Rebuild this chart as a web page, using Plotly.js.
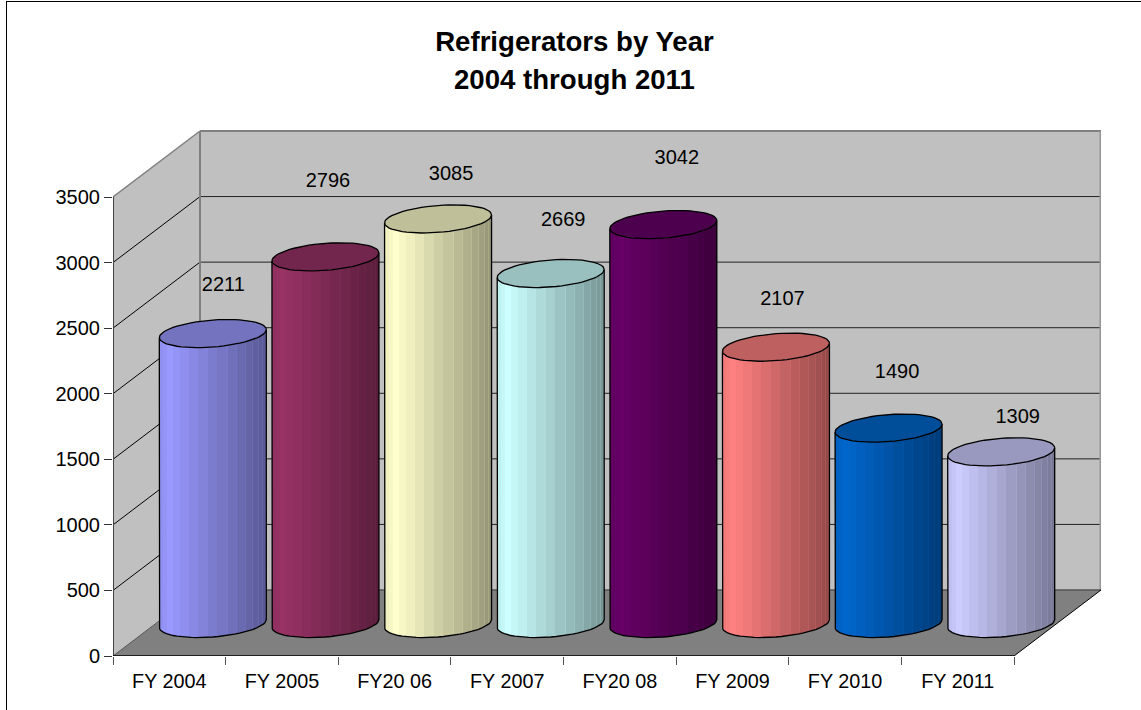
<!DOCTYPE html>
<html>
<head>
<meta charset="utf-8">
<script src="https://cdn.plot.ly/plotly-3.0.1.min.js"></script>
<style>html,body{margin:0;padding:0;background:#fff;overflow:hidden}#chart{width:1141px;height:710px}</style>
</head>
<body>
<div id="chart"></div>
<script>
// ---- data ----
const categories = ["FY 2004","FY 2005","FY20 06","FY 2007","FY20 08","FY 2009","FY 2010","FY 2011"];
const values = [2211,2796,3085,2669,3042,2107,1490,1309];
const yTicks = [0,500,1000,1500,2000,2500,3000,3500];
const barColors = [[153,153,255],[153,51,102],[255,255,204],[204,255,255],[102,0,102],[255,128,128],[0,102,204],[204,204,255]];
const labelDx = [10.5,2.5,13,12.5,13.5,6.5,8.5,16.5];
const labelDy = [47.5,74.5,43.5,52.5,65.5,47.5,55.5,33.5];

// ---- frame of the fake 3D box, in pixels of the page ----
const W = 1141, H = 710;
const L = 113, R = 1101, T = 130, B = 656, FRONT_R = 1014;
const DX = 87, DY = 66;
const xUnit = (FRONT_R - L) / categories.length;
const yUnit = (B - 197) / 3500;
const xMax = (R - L) / xUnit, yMax = (B - T) / yUnit;
const X = p => (p - L) / xUnit;
const Y = p => (B - p) / yUnit;

// cylinder geometry
const RAD = 53.5, ELL_B = 13.5, SHEAR = 4, OFF_X = 43.5, FLOOR_Y = 623.5, STRIP = 1, FACET = Math.PI / 17;
const shade = (c, f) => `rgb(${c.map(v => Math.min(255, Math.round(v * f))).join(",")})`;
const centre = i => L + (i + 0.5) * xUnit + OFF_X;
const topY = v => FLOOR_Y - v * yUnit;

const traces = [];
// bodies: narrow bars whose height is the value and whose base follows the floor ellipse
values.forEach((v, i) => {
  const cx = centre(i);
  const xs = [], bases = [], cols = [], widths = [];
  const n = Math.round(2 * RAD / STRIP);
  let lastFacet = -1;
  for (let k = 0; k < n; k++) {
    const px = cx - RAD + (k + 0.5) * STRIP;
    const u = Math.max(-1, Math.min(1, (px - cx) / RAD));
    const th = Math.acos(u);
    const idx = Math.floor(th / FACET);
    const facet = (idx + 0.5) * FACET;
    const t = (Math.cos(facet) + 1) / 2;
    let f = t < 0.1 ? 0.93 + 0.07 * t / 0.1 : 1 - 0.42 * (t - 0.1) / 0.9;
    if (idx !== lastFacet && k > 0 && u > 0.1) f += 0.07;   // faint light seam between facets
    lastFacet = idx;
    xs.push(X(px));
    widths.push(STRIP / xUnit);
    bases.push(Y(FLOOR_Y + ELL_B * Math.sin(th) - SHEAR * u));
    cols.push(shade(barColors[i], f));
  }
  traces.push({type: "bar", x: xs, y: xs.map(() => v), base: bases, width: widths, opacity: 1,
    marker: {color: cols, opacity: 1, line: {width: 0}}, hoverinfo: "skip", showlegend: false});
});
// outlines and lids
values.forEach((v, i) => {
  const cx = centre(i), cy = topY(v);
  const lidX = [], lidY = [], sideX = [], sideY = [];
  for (let d = 0; d <= 360; d += 6) {
    const a = d * Math.PI / 180;
    lidX.push(X(cx + RAD * Math.cos(a)));
    lidY.push(Y(cy + ELL_B * Math.sin(a) - SHEAR * Math.cos(a)));
  }
  sideX.push(X(cx - RAD)); sideY.push(Y(cy + SHEAR));
  for (let d = 180; d >= 0; d -= 6) {
    const a = d * Math.PI / 180;
    sideX.push(X(cx + RAD * Math.cos(a)));
    sideY.push(Y(FLOOR_Y + ELL_B * Math.sin(a) - SHEAR * Math.cos(a)));
  }
  sideX.push(X(cx + RAD)); sideY.push(Y(cy - SHEAR));
  traces.push({type: "scatter", mode: "lines", x: sideX, y: sideY, line: {color: "#000", width: 1.3},
    hoverinfo: "skip", showlegend: false});
  traces.push({type: "scatter", mode: "lines", x: lidX, y: lidY, fill: "toself",
    fillcolor: shade(barColors[i], 0.75), line: {color: "#000", width: 1.3}, hoverinfo: "skip", showlegend: false});
});
// value labels
traces.push({type: "scatter", mode: "text",
  x: values.map((v, i) => X(centre(i) + labelDx[i])),
  y: values.map((v, i) => Y(topY(v) - labelDy[i])),
  text: values.map(String), textposition: "middle center",
  textfont: {family: "Liberation Sans, Arial, sans-serif", size: 20, color: "#000"},
  cliponaxis: false, hoverinfo: "skip", showlegend: false});

// walls, floor, grid
const poly = pts => "M" + pts.map(p => X(p[0]) + "," + Y(p[1])).join(" L") + " Z";
const seg = (x0, y0, x1, y1, color, width, layer) => ({type: "line", xref: "x", yref: "y", layer: layer || "below",
  x0: X(x0), y0: Y(y0), x1: X(x1), y1: Y(y1), line: {color, width}});
const shapes = [
  {type: "path", xref: "x", yref: "y", layer: "below", path: poly([[L + DX, B - DY], [R, B - DY], [R, T + 1], [L + DX, T + 1]]), fillcolor: "#C0C0C0", line: {width: 0}},
  {type: "path", xref: "x", yref: "y", layer: "below", path: poly([[L, B], [L + DX, B - DY], [L + DX, T + 1], [L, 197]]), fillcolor: "#C0C0C0", line: {width: 0}},
  {type: "path", xref: "x", yref: "y", layer: "below", path: poly([[L, B], [FRONT_R, B], [R, B - DY], [L + DX, B - DY]]), fillcolor: "#808080", line: {width: 0}},
];
yTicks.forEach(t => {
  const py = B - t * yUnit;
  if (t > 0 && t < 3500) {
    shapes.push(seg(L, py, L + DX, py - DY, "#000", 1));
    shapes.push(seg(L + DX, py - DY, R, py - DY, "#222", 1));
  }
});
shapes.push(seg(L, 197, L + DX, T + 1, "#808080", 1.5));
shapes.push(seg(L + DX, T + 1, R, T + 1, "#808080", 2));
shapes.push(seg(R - 0.5, T + 1, R - 0.5, B - DY, "#969696", 2));
shapes.push(seg(L + DX, T + 1, L + DX, B - DY, "#808080", 2));
shapes.push(seg(L + DX, B - DY, R, B - DY, "#555", 1.5));
shapes.push(seg(L, B, L + DX, B - DY, "#555", 1));
shapes.push(seg(FRONT_R, B, R, B - DY, "#000", 1));
shapes.push(seg(L, 197, L, B, "#444", 2));
shapes.push(seg(L, B, FRONT_R, B, "#000", 1.5));
// outer frame of the chart area
shapes.push({type: "line", xref: "paper", yref: "paper", x0: (6 - L) / (R - L), x1: (W - L) / (R - L), y0: (B - 1.5) / (B - T), y1: (B - 1.5) / (B - T), line: {color: "#000", width: 1}});
shapes.push({type: "line", xref: "paper", yref: "paper", x0: (6.5 - L) / (R - L), x1: (6.5 - L) / (R - L), y0: (B - 1) / (B - T), y1: (B - H) / (B - T), line: {color: "#000", width: 1}});

const font = "Liberation Sans, Arial, sans-serif";
const layout = {
  width: W, height: H,
  paper_bgcolor: "#fff", plot_bgcolor: "rgba(0,0,0,0)",
  margin: {l: L, r: W - R, t: T, b: H - B, pad: 0},
  barmode: "overlay", bargap: 0, bargroupgap: 0, showlegend: false,
  font: {family: font, color: "#000"},
  title: {text: "<b>Refrigerators by Year</b>", font: {family: font, size: 27.6, color: "#000"},
    x: 574.5 / W, xanchor: "center", y: 1 - 41 / H, yanchor: "middle"},
  annotations: [{text: "<b>2004 through 2011</b>", xref: "paper", yref: "paper", showarrow: false,
    x: (574 - L) / (R - L), y: (B - 80) / (B - T), xanchor: "center", yanchor: "middle",
    font: {family: font, size: 27.6, color: "#000"}}],
  xaxis: {range: [0, xMax], showgrid: false, zeroline: false, showline: false, ticks: "",
    tickmode: "array", tickvals: categories.map((c, i) => i + 0.5), ticktext: categories,
    tickfont: {family: font, size: 19.8, color: "#000"}, ticklabelstandoff: 11, tickangle: 0,
    minor: {tickmode: "array", tickvals: categories.map((c, i) => i).concat([categories.length]), ticks: "outside", ticklen: 8, tickwidth: 1, tickcolor: "#555", showgrid: false}},
  yaxis: {range: [0, yMax], showgrid: false, zeroline: false, showline: false, ticks: "outside", ticklen: 8, tickwidth: 1, tickcolor: "#333",
    tickmode: "array", tickvals: yTicks, ticktext: yTicks.map(String),
    tickfont: {family: font, size: 20, color: "#000"}},
  shapes
};
Plotly.newPlot("chart", traces, layout, {displayModeBar: false, staticPlot: true});
</script>
</body>
</html>
